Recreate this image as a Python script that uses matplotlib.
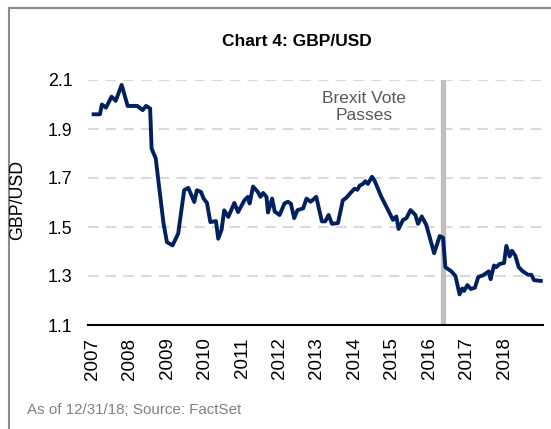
import matplotlib
matplotlib.use("Agg")
import matplotlib.pyplot as plt
from matplotlib.lines import Line2D

plt.rcParams['font.family'] = ['Liberation Sans', 'DejaVu Sans']

# decimal years and GBP/USD rate
DATES = [
    2007.03, 2007.20, 2007.25, 2007.36, 2007.51, 2007.62, 2007.78, 2007.94, 2008.20, 2008.34,
    2008.43, 2008.54, 2008.58, 2008.69, 2008.78, 2008.90, 2008.99, 2009.14, 2009.29, 2009.45,
    2009.56, 2009.72, 2009.79, 2009.90, 2009.97, 2010.06, 2010.15, 2010.30, 2010.36, 2010.45,
    2010.52, 2010.63, 2010.79, 2010.89, 2011.06, 2011.15, 2011.20, 2011.29, 2011.42, 2011.49,
    2011.56, 2011.65, 2011.69, 2011.80, 2011.87, 2012.00, 2012.13, 2012.22, 2012.30, 2012.39,
    2012.48, 2012.63, 2012.72, 2012.83, 2012.98, 2013.13, 2013.22, 2013.31, 2013.40, 2013.56,
    2013.69, 2013.78, 2013.92, 2014.00, 2014.08, 2014.14, 2014.23, 2014.29, 2014.36, 2014.47,
    2014.54, 2014.72, 2014.90, 2015.03, 2015.12, 2015.18, 2015.30, 2015.39, 2015.50, 2015.63,
    2015.70, 2015.80, 2015.92, 2016.13, 2016.28, 2016.37, 2016.43, 2016.59, 2016.70, 2016.81,
    2016.88, 2016.93, 2017.02, 2017.11, 2017.22, 2017.31, 2017.44, 2017.59, 2017.64, 2017.73,
    2017.79, 2017.88, 2018.00, 2018.06, 2018.15, 2018.21, 2018.30, 2018.39, 2018.50, 2018.64,
    2018.73, 2018.80, 2018.98,
]
GBPUSD = [
    1.960, 1.960, 2.000, 1.987, 2.032, 2.015, 2.080, 1.994, 1.994, 1.977,
    1.994, 1.984, 1.820, 1.780, 1.664, 1.513, 1.438, 1.425, 1.473, 1.650,
    1.660, 1.602, 1.650, 1.643, 1.616, 1.598, 1.520, 1.524, 1.452, 1.489,
    1.568, 1.541, 1.598, 1.561, 1.609, 1.623, 1.596, 1.665, 1.643, 1.623,
    1.639, 1.623, 1.559, 1.616, 1.563, 1.549, 1.596, 1.603, 1.596, 1.536,
    1.569, 1.576, 1.616, 1.603, 1.623, 1.523, 1.523, 1.549, 1.513, 1.516,
    1.609, 1.619, 1.643, 1.656, 1.652, 1.669, 1.676, 1.687, 1.676, 1.705,
    1.689, 1.623, 1.569, 1.529, 1.543, 1.492, 1.529, 1.536, 1.569, 1.549,
    1.513, 1.543, 1.509, 1.393, 1.463, 1.456, 1.336, 1.319, 1.300, 1.225,
    1.249, 1.239, 1.263, 1.247, 1.252, 1.296, 1.303, 1.319, 1.287, 1.343,
    1.336, 1.349, 1.353, 1.423, 1.380, 1.403, 1.383, 1.336, 1.319, 1.305,
    1.305, 1.283, 1.280,
]
YEARS = list(range(2007, 2019))
Y_TICKS = [1.1, 1.3, 1.5, 1.7, 1.9, 2.1]
BREXIT_DATE = 2016.36

fig = plt.figure(figsize=(5.51, 4.29), dpi=100)
ax = fig.add_axes([88 / 551, 1 - 325 / 429, (543 - 88) / 551, (325 - 80) / 429])

for y in Y_TICKS[1:]:
    ax.axhline(y, color='#D9D9D9', lw=1.5, dashes=(5, 3.5), zorder=1)
ax.axvline(BREXIT_DATE, color='#BFBFBF', lw=3.8, zorder=2)
ax.plot(DATES, GBPUSD, color='#002060', lw=2.8, solid_joinstyle='round', zorder=3)

ax.set_xlim(2006.88, 2019.04)
ax.set_ylim(1.1, 2.1)
ax.set_yticks(Y_TICKS)
ax.set_yticklabels(['%.1f' % v for v in Y_TICKS])
ax.set_xticks(YEARS)
ax.set_xticklabels([str(y) for y in YEARS], rotation=90)
ax.tick_params(axis='both', length=0, colors='black')
ax.tick_params(axis='y', pad=11, labelsize=12.8)
ax.tick_params(axis='x', pad=9, labelsize=13.5)
for s in ['top', 'right', 'left']:
    ax.spines[s].set_visible(False)
ax.spines['bottom'].set_color('black')
ax.spines['bottom'].set_linewidth(1.5)
ax.spines['bottom'].set_zorder(4)

ax.text(2014.25, 1.99, 'Brexit Vote\nPasses', ha='center', va='center', fontsize=12.5,
        color='#595959', linespacing=1.2)

fig.text(297 / 551, 1 - 42 / 429, 'Chart 4: GBP/USD', ha='center', va='center',
         fontsize=12.5, fontweight='bold')
fig.text(18 / 551, 1 - 200 / 429, 'GBP/USD', ha='center', va='center', rotation=90,
         fontsize=12.8)
fig.text(27 / 551, 1 - 410 / 429, 'As of 12/31/18; Source: FactSet', ha='left', va='center',
         fontsize=10.9, color='#808080')

# outer frame (left and top edges)
fig.add_artist(Line2D([9 / 551, 9 / 551], [0, 1 - 8 / 429], color='#8C8C8C', lw=1.5))
fig.add_artist(Line2D([9 / 551, 1], [1 - 8 / 429, 1 - 8 / 429], color='#8C8C8C', lw=1.5))

fig.savefig('out.png', dpi=100)
